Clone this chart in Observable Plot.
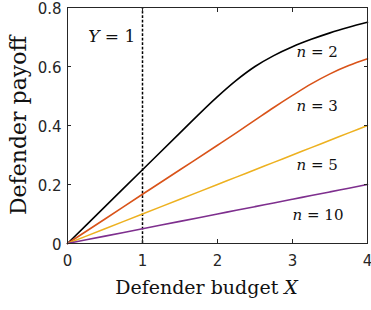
<!DOCTYPE html>
<html>
<head>
<meta charset="utf-8">
<script src="https://cdn.jsdelivr.net/npm/d3@7"></script>
<script src="https://cdn.jsdelivr.net/npm/@observablehq/plot@0.6"></script>
<style>
  html, body { margin: 0; padding: 0; background: #fff; }
</style>
</head>
<body>
<div id="chart"></div>
<script>
// Defender budget X (sample positions)
const budget = [0, 0.5, 1, 1.5, 2, 2.25, 2.5, 2.75, 3, 3.25, 3.5, 3.75, 4];
// Defender payoff per number of attackers n
const payoffN2  = [0, 0.125, 0.25, 0.375, 0.498, 0.553, 0.6, 0.637, 0.667, 0.692, 0.714, 0.733, 0.75];
const payoffN3  = [0, 0.083, 0.167, 0.25, 0.333, 0.375, 0.418, 0.461, 0.502, 0.541, 0.575, 0.603, 0.626];
const payoffN5  = [0, 0.05, 0.1, 0.15, 0.2, 0.225, 0.25, 0.275, 0.3, 0.325, 0.35, 0.375, 0.4];
const payoffN10 = [0, 0.025, 0.05, 0.075, 0.1, 0.1125, 0.125, 0.1375, 0.15, 0.1625, 0.175, 0.1875, 0.2];

const seriesNames = ["n = 2", "n = 3", "n = 5", "n = 10"];
const seriesValues = [payoffN2, payoffN3, payoffN5, payoffN10];
const seriesColors = ["#000000", "#D95319", "#EDB120", "#7E2F8E"];

// series label annotations (data coordinates)
const labelText = ["*n* = 2", "*n* = 3", "*n* = 5", "*n* = 10"];
const labelX = [3.33, 3.33, 3.33, 3.34];
const labelY = [0.650, 0.464, 0.264, 0.095];

// reference budget of the attacker
const attackerBudget = [1];
const attackerLabel = "*Y* = 1";
const attackerLabelX = 0.59;
const attackerLabelY = 0.70;

const xTicks = [0, 1, 2, 3, 4];
const xTickLabels = ["0", "1", "2", "3", "4"];
const yTicks = [0, 0.2, 0.4, 0.6, 0.8];
const yTickLabels = ["0", "0.2", "0.4", "0.6", "0.8"];

const xTitle = "Defender budget *X*";
const yTitle = "Defender payoff";

const serif = "'DejaVu Serif', serif";
const sans = "'DejaVu Sans', sans-serif";
const axisColor = "#262626";

const lineMarks = seriesValues.map((vals, i) =>
  Plot.line(budget.map((b, j) => ({x: b, y: vals[j]})), {
    x: "x", y: "y", stroke: seriesColors[i], strokeWidth: 1.6, curve: "monotone-x"
  })
);

const annots = labelText.map((t, i) => ({t, x: labelX[i], y: labelY[i]}));

const chart = Plot.plot({
  width: 371,
  height: 310,
  marginLeft: 67,
  marginRight: 4,
  marginTop: 7,
  marginBottom: 67,
  x: {domain: [0, 4]},
  y: {domain: [0, 0.8]},
  style: {fontFamily: sans, fontSize: "15px", color: axisColor, background: "#fff", overflow: "visible"},
  marks: [
    Plot.ruleX(attackerBudget, {x: d => d, y1: 0, y2: 0.8, stroke: "#000", strokeWidth: 1.5, strokeDasharray: "2.7,1.8"}),
    ...lineMarks,
    Plot.frame({stroke: axisColor, strokeWidth: 1}),
    Plot.axisX(xTicks, {anchor: "bottom", tickSize: -4, tickPadding: 16, tickFormat: d => xTickLabels[xTicks.indexOf(d)], label: null, fontSize: 15, stroke: axisColor, fill: axisColor}),
    Plot.axisX(xTicks, {anchor: "top", tickSize: -4, tickFormat: () => "", label: null, stroke: axisColor}),
    Plot.axisY(yTicks, {anchor: "left", tickSize: -4, tickFormat: () => "", label: null, stroke: axisColor}),
    Plot.axisY(yTicks, {anchor: "left", tickSize: 0, tickPadding: 6, dy: 2, tickFormat: d => yTickLabels[yTicks.indexOf(d)], label: null, fontSize: 15, fill: axisColor}),
    Plot.axisY(yTicks, {anchor: "right", tickSize: -4, tickFormat: () => "", label: null, stroke: axisColor}),
    Plot.text(annots, {x: "x", y: "y", text: "t", fontFamily: serif, fontSize: 15, fill: "#111", lineAnchor: "middle", textAnchor: "middle"}),
    Plot.text([attackerLabel], {x: () => attackerLabelX, y: () => attackerLabelY, text: d => d, fontFamily: serif, fontSize: 17, fill: "#111", lineAnchor: "middle", textAnchor: "middle"}),
    Plot.text([xTitle], {text: d => d, frameAnchor: "bottom", dx: -11, dy: 44, fontFamily: serif, fontSize: 19, fill: "#111", lineAnchor: "middle", textAnchor: "middle"}),
    Plot.text([yTitle], {text: d => d, frameAnchor: "left", rotate: -90, dx: -49, fontFamily: serif, fontSize: 22, fill: "#111", lineAnchor: "middle", textAnchor: "middle"})
  ]
});

// italic math parts marked with *...*
const NS = "http://www.w3.org/2000/svg";
chart.querySelectorAll("text").forEach(t => {
  const s = t.textContent;
  if (s.includes("*")) {
    const parts = s.split("*");
    while (t.firstChild) t.removeChild(t.firstChild);
    parts.forEach((p, i) => {
      if (!p) return;
      const ts = document.createElementNS(NS, "tspan");
      if (i % 2) ts.setAttribute("font-style", "italic");
      ts.textContent = p;
      t.appendChild(ts);
    });
  }
});

document.getElementById("chart").appendChild(chart);
</script>
</body>
</html>
